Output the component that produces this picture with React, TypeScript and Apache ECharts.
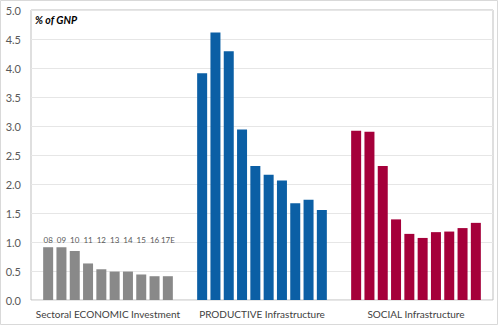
import React, { useEffect, useRef } from "react";
import * as echarts from "echarts";

const groups = ["Sectoral ECONOMIC Investment", "PRODUCTIVE Infrastructure", "SOCIAL Infrastructure"];
const years = ["08", "09", "10", "11", "12", "13", "14", "15", "16", "17E"];
const economic = [0.91, 0.91, 0.845, 0.63, 0.53, 0.49, 0.49, 0.44, 0.41, 0.41];
const productive = [3.91, 4.61, 4.29, 2.94, 2.31, 2.16, 2.06, 1.67, 1.73, 1.55];
const social = [2.92, 2.9, 2.31, 1.39, 1.14, 1.07, 1.17, 1.18, 1.24, 1.33];
const groupColors = ["#898989", "#0b5fa5", "#a5003a"];
const yTicks = [0, 0.5, 1, 1.5, 2, 2.5, 3, 3.5, 4, 4.5, 5];
const yearLabelLevel = 0.96;

const FONT = "Lato, 'Open Sans', sans-serif";

export default function App() {
  const ref = useRef<HTMLDivElement>(null);
  useEffect(() => {
    document.body.style.margin = "0";
    const chart = echarts.init(ref.current!, null, { renderer: "svg" });
    const series: any[] = [];
    years.forEach((y, i) => {
      const vals = [economic[i], productive[i], social[i]];
      series.push({
        type: "bar",
        name: y,
        stack: "s" + i,
        barWidth: 10,
        barGap: "33%",
        data: vals.map((v, g) => ({ value: v, itemStyle: { color: groupColors[g] } })),
      });
      series.push({
        type: "bar",
        name: y + "-label",
        stack: "s" + i,
        barWidth: 10,
        barGap: "33%",
        itemStyle: { color: "transparent" },
        data: [yearLabelLevel - economic[i], "-", "-"],
        label: {
          show: true,
          position: "top",
          distance: 0,
          formatter: () => y,
          fontSize: 8,
          color: "#595959",
          fontFamily: FONT,
        },
        silent: true,
      });
    });
    chart.setOption({
      animation: false,
      grid: {
        left: 31,
        top: 10,
        right: 5,
        bottom: 25,
        show: true,
        borderColor: "#bfbfbf",
        borderWidth: 1,
        backgroundColor: "transparent",
      },
      graphic: [
        {
          type: "rect",
          shape: { x: 0.5, y: 0.5, width: 497, height: 324 },
          style: { fill: "none", stroke: "#d9d9d9", lineWidth: 1 },
          silent: true,
        },
        {
          type: "text",
          left: 35,
          top: 14,
          style: {
            text: "% of GNP",
            fontSize: 10.5,
            fontWeight: "bold",
            fontStyle: "italic",
            fill: "#000",
            fontFamily: FONT,
          },
        },
      ],
      xAxis: {
        type: "category",
        data: groups,
        axisLine: { show: false },
        axisTick: { show: false },
        axisLabel: { interval: 0, fontSize: 10, color: "#404040", margin: 9, fontFamily: FONT },
      },
      yAxis: {
        type: "value",
        min: yTicks[0],
        max: yTicks[yTicks.length - 1],
        interval: 0.5,
        axisLine: { show: false },
        axisTick: { show: false },
        splitLine: { lineStyle: { color: "#e6e6e6" } },
        axisLabel: {
          fontSize: 11,
          color: "#595959",
          margin: 10,
          fontFamily: FONT,
          formatter: (v: number) => v.toFixed(1),
        },
      },
      series,
    });
    return () => chart.dispose();
  }, []);
  return <div ref={ref} style={{ width: 498, height: 325 }} />;
}
